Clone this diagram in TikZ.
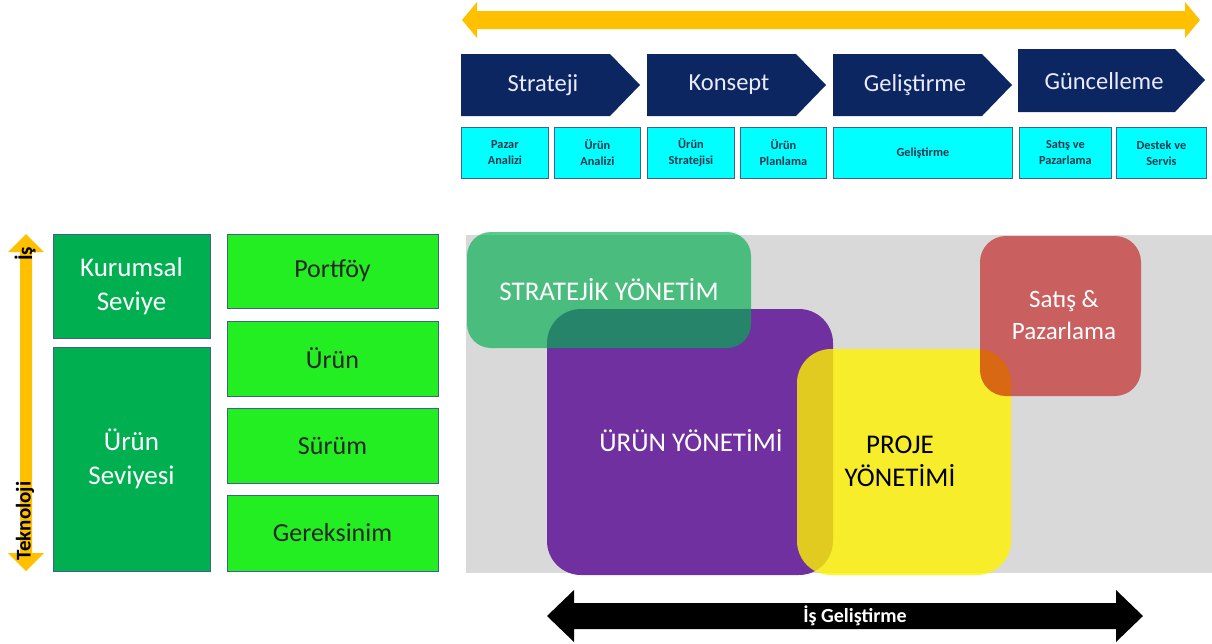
\documentclass[tikz,border=0pt]{standalone}
\usepackage{fontspec}
\setmainfont{Carlito}
\definecolor{navy}{RGB}{12,38,98}
\definecolor{cyanbox}{RGB}{0,255,255}
\definecolor{cyantext}{RGB}{25,55,75}
\definecolor{boxedge}{RGB}{65,95,145}
\definecolor{amber}{RGB}{255,192,0}
\definecolor{dgreen}{RGB}{0,176,80}
\definecolor{lgreen}{RGB}{34,238,34}
\definecolor{greybg}{RGB}{217,217,217}
\definecolor{purp}{RGB}{112,48,160}
\definecolor{redb}{RGB}{192,0,0}
\tikzset{
  chevtext/.style={text=white!92!blue, font=\fontsize{24.5}{28}\selectfont, inner sep=0},
  cyanbox/.style={draw=boxedge, fill=cyanbox, line width=0.8pt, text=cyantext, align=center,
    font=\bfseries\fontsize{12.3}{16}\selectfont, inner sep=0, anchor=north west, minimum height=51pt},
  dbox/.style={draw=boxedge, fill=dgreen, line width=0.8pt, text=white, align=center,
    font=\fontsize{27}{34}\selectfont, minimum width=157pt},
  lbox/.style={draw=boxedge, fill=lgreen, line width=0.8pt, text=black!85, align=center,
    font=\fontsize{26}{30}\selectfont, minimum width=211pt},
  blob/.style={align=center, text opacity=1, font=\fontsize{27}{33}\selectfont, inner sep=0},
  axtext/.style={rotate=90, font=\bfseries\fontsize{21}{24}\selectfont, text=black, inner sep=0}
}
\begin{document}
\begin{tikzpicture}[x=1pt,y=-1pt]
\useasboundingbox (0,0) rectangle (1212,643);
% top amber arrow
\fill[amber] (462,20) -- (477,2) -- (477,11) -- (1185,11) -- (1185,2) -- (1200,20)
  -- (1185,38) -- (1185,29) -- (477,29) -- (477,38) -- cycle;
% chevrons
\fill[navy] (461,54) -- (610,54) -- (640,85) -- (610,116) -- (461,116) -- cycle;
\fill[navy] (647,54) -- (796,54) -- (826,85) -- (796,116) -- (647,116) -- cycle;
\fill[navy] (833,54) -- (982,54) -- (1012,85) -- (982,116) -- (833,116) -- cycle;
\fill[navy] (1018,49) -- (1175,49) -- (1205,80) -- (1175,112) -- (1018,112) -- cycle;
\node[chevtext] (c1) at (543,85) {Strateji};
\node[chevtext] (c2) at (729,85) {Konsept};
\node[chevtext] (c3) at (915,85) {Geliştirme};
\node[chevtext] (c4) at (1104,81) {Güncelleme};
% cyan boxes
\node[cyanbox, minimum width=87pt] (b1) at (461,127) {Pazar\\Analizi};
\node[cyanbox, minimum width=86pt] (b2) at (554,127) {Ürün\\Analizi};
\node[cyanbox, minimum width=87pt] (b3) at (647,127) {Ürün\\Stratejisi};
\node[cyanbox, minimum width=86pt] (b4) at (740,127) {Ürün\\Planlama};
\node[cyanbox, minimum width=179pt] (b5) at (833,127) {Geliştirme};
\node[cyanbox, minimum width=92pt] (b6) at (1019,127) {Satış ve\\Pazarlama};
\node[cyanbox, minimum width=90pt] (b7) at (1116,127) {Destek ve\\Servis};
% vertical amber arrow
\fill[amber] (26,234) -- (44,252) -- (32,252) -- (32,553) -- (44,553) -- (26,571)
  -- (8,553) -- (20,553) -- (20,252) -- (8,252) -- cycle;
\node[axtext] (is) at (25,254) {İş};
\node[axtext] (tek) at (25,521) {Teknoloji};
% dark green boxes
\node[dbox, minimum height=104pt] (kur) at (131.5,286) {Kurumsal\\Seviye};
\node[dbox, minimum height=224pt] (urs) at (131.5,459) {Ürün\\Seviyesi};
% light green boxes
\node[lbox, minimum height=74pt] (port) at (332.5,271) {Portföy};
\node[lbox, minimum height=75pt] (urun) at (332.5,358.5) {Ürün};
\node[lbox, minimum height=75pt] (surum) at (332.5,445.5) {Sürüm};
\node[lbox, minimum height=76pt] (ger) at (332.5,533) {Gereksinim};
% grey background
\fill[greybg] (466,235) rectangle (1212,573);
% overlapping areas
\node[blob, fill=purp, rounded corners=34pt, minimum width=286pt, minimum height=266pt, text=white] (uy) at (690,442) {};
\node[blob, text=white] (uyt) at (691,441) {ÜRÜN YÖNETİMİ};
\node[blob, fill=dgreen, fill opacity=0.66, rounded corners=24pt, minimum width=284pt, minimum height=116pt, text=white] (sy) at (609,290) {STRATEJİK YÖNETİM};
\node[blob, fill=yellow, fill opacity=0.8, rounded corners=34pt, minimum width=214pt, minimum height=226pt] (py) at (904,462) {};
\node[blob, text=black] (pyt) at (900,461.5) {PROJE\\YÖNETİMİ};
\node[blob, fill=redb, fill opacity=0.56, rounded corners=26pt, minimum width=161pt, minimum height=160pt] (sp) at (1060.5,316) {};
\node[blob, text=white, font=\fontsize{25}{32}\selectfont] (spt) at (1064,315) {Satış \&\\Pazarlama};
% bottom black arrow
\fill[black] (547,616) -- (574,590) -- (574,603) -- (1116,603) -- (1116,590) -- (1143,616)
  -- (1116,642) -- (1116,629) -- (574,629) -- (574,642) -- cycle;
\node[text=white, font=\bfseries\fontsize{20}{24}\selectfont, inner sep=0] (ig) at (855,616) {İş Geliştirme};
\end{tikzpicture}
\end{document}
